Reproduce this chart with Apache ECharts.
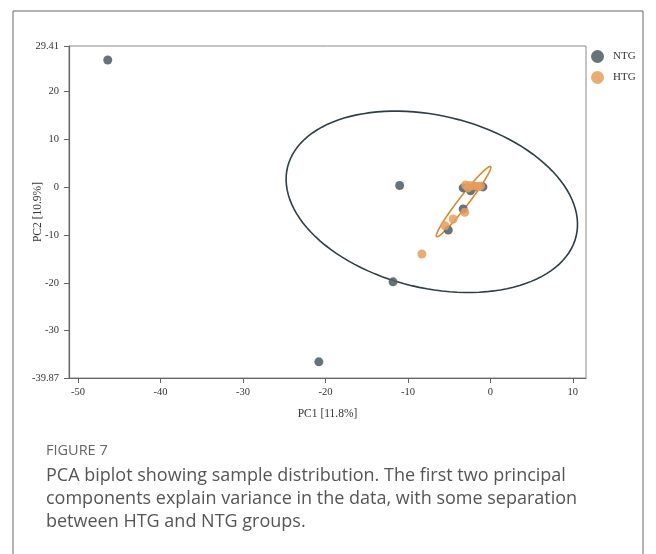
<!DOCTYPE html>
<html>
<head>
<meta charset="utf-8">
<script src="https://cdn.jsdelivr.net/npm/echarts@6/dist/echarts.min.js"></script>
<style>
  html, body { margin: 0; padding: 0; background: #fff; }
  #chart { width: 656px; height: 554px; }
</style>
</head>
<body>
<div id="chart"></div>
<script>
// points: [PC1, PC2]
var ntgPoints = [
  [-46.4, 26.5], [-11.0, 0.3], [-11.8, -19.8], [-20.8, -36.5],
  [-3.3, -4.6], [-5.1, -9.0], [-3.3, -0.2], [-0.9, 0.0],
  [-2.4, -0.8], [-1.8, 0.0]
];
var htgPoints = [
  [-8.3, -14.0], [-3.1, -5.3], [-4.5, -6.7], [-5.5, -8.1],
  [-3.0, 0.4], [-2.5, 0.3], [-2.0, 0.2], [-1.5, 0.1],
  [-1.2, 0.2], [-2.7, -0.2]
];
// confidence ellipses: centre and two conjugate semi-axes (data units)
var ntgEllipse = { center: [-7.1, -3.1], u: [17.5, -7.2], v: [-2.45, -17.5] };
var htgEllipse = { center: [-3.25, -3.06], u: [3.27, 7.29], v: [0.48, -0.64] };

var xTicks = [-50, -40, -30, -20, -10, 0, 10];
var yTicks = [-39.87, -30, -20, -10, 0, 10, 20, 29.41];

var ntgColor = '#56646c';
var htgColor = '#e89d5a';
var serif = 'Liberation Serif';

var chart = echarts.init(document.getElementById('chart'));

function ellipseSeries(name, ell, color) {
  return {
    name: name,
    type: 'custom',
    silent: true,
    z: 1,
    data: [ell.center],
    renderItem: function (params, api) {
      var pts = [];
      for (var i = 0; i < 120; i++) {
        var t = i / 120 * Math.PI * 2;
        var c = Math.cos(t), s = Math.sin(t);
        pts.push(api.coord([
          ell.center[0] + ell.u[0] * c + ell.v[0] * s,
          ell.center[1] + ell.u[1] * c + ell.v[1] * s
        ]));
      }
      return {
        type: 'polygon',
        shape: { points: pts },
        style: { fill: 'none', stroke: color, lineWidth: 1.6 }
      };
    }
  };
}

var option = {
  animation: false,
  grid: {
    left: 69, top: 46, right: 70, bottom: 176,
    show: true, borderColor: '#8a8a8a', borderWidth: 1
  },
  legend: {
    orient: 'vertical',
    left: 586, top: 45,
    itemWidth: 13, itemHeight: 13, itemGap: 8,
    data: [{ name: 'NTG', icon: 'circle' }, { name: 'HTG', icon: 'circle' }],
    textStyle: { fontFamily: serif, fontSize: 11, color: '#333', padding: [0, 0, 0, 4] }
  },
  xAxis: {
    type: 'value',
    min: -51.1, max: 11.6,
    name: 'PC1 [11.8%]',
    nameLocation: 'middle',
    nameGap: 30,
    nameMoveOverlap: false,
    nameTextStyle: { fontFamily: serif, fontSize: 11.5, color: '#333' },
    splitLine: { show: false },
    axisLine: { onZero: false, lineStyle: { color: '#666', width: 1.2 } },
    axisTick: { length: 5, customValues: xTicks, lineStyle: { color: '#666' } },
    axisLabel: { customValues: xTicks, fontFamily: serif, fontSize: 10.5, color: '#333', margin: 9 }
  },
  yAxis: {
    type: 'value',
    min: -39.87, max: 29.41,
    name: 'PC2 [10.9%]',
    nameLocation: 'middle',
    nameGap: 25,
    nameMoveOverlap: false,
    nameTextStyle: { fontFamily: serif, fontSize: 11.5, color: '#333' },
    splitLine: { show: false },
    axisLine: { onZero: false, lineStyle: { color: '#666', width: 1.2 } },
    axisTick: { length: 5, customValues: yTicks, lineStyle: { color: '#666' } },
    axisLabel: { customValues: yTicks, fontFamily: serif, fontSize: 10.5, color: '#333', margin: 10 }
  },
  graphic: [
    {
      type: 'rect',
      shape: { x: 13, y: 11, width: 630, height: 600 },
      style: { fill: 'none', stroke: '#666', lineWidth: 1 },
      silent: true
    },
    {
      type: 'text', left: 46, top: 443,
      style: { text: 'FIGURE 7', fontFamily: 'Open Sans', fontSize: 14.5, fill: '#666' }
    },
    {
      type: 'text', left: 46, top: 464,
      style: {
        text: 'PCA biplot showing sample distribution. The first two principal\ncomponents explain variance in the data, with some separation\nbetween HTG and NTG groups.',
        fontFamily: 'Open Sans', fontSize: 18, lineHeight: 23, fill: '#555'
      }
    }
  ],
  series: [
    {
      name: 'NTG', type: 'scatter', symbolSize: 9, z: 3,
      itemStyle: { color: ntgColor, opacity: 0.9 },
      data: ntgPoints
    },
    {
      name: 'HTG', type: 'scatter', symbolSize: 9, z: 4,
      itemStyle: { color: htgColor, opacity: 0.85 },
      data: htgPoints
    },
    ellipseSeries('NTG', ntgEllipse, '#2d3e44'),
    ellipseSeries('HTG', htgEllipse, '#d9892f')
  ]
};

chart.setOption(option);
</script>
</body>
</html>
